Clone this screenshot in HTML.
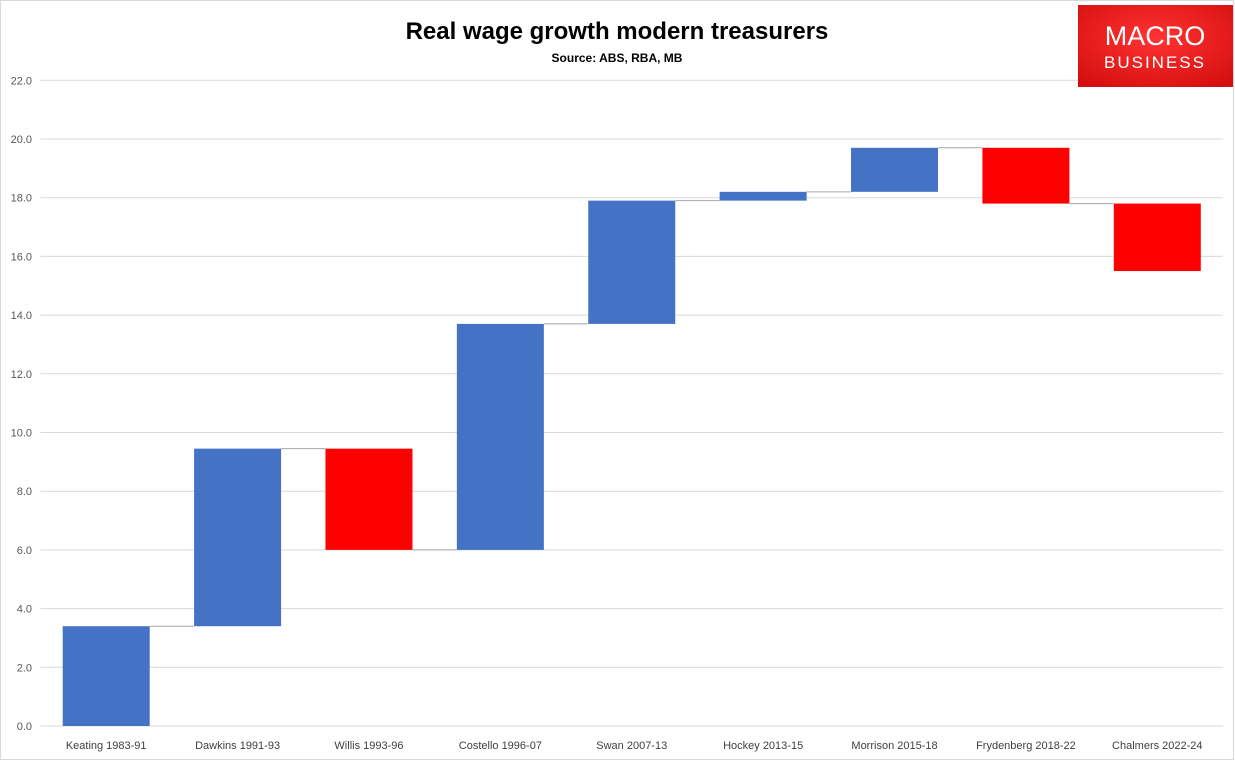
<!DOCTYPE html>
<html><head><meta charset="utf-8"><style>
body{margin:0;background:#fff;font-family:"Liberation Sans",sans-serif;}
svg{display:block}
</style></head><body>
<svg id="chart" width="1235" height="761">
<rect x="0.5" y="0.5" width="1233" height="759" fill="#fff" stroke="#d9d9d9"/>
<text x="617" y="39" text-anchor="middle" font-size="24" font-weight="bold" fill="#000">Real wage growth modern treasurers</text>
<text x="617" y="62" text-anchor="middle" font-size="12" font-weight="bold" fill="#000">Source: ABS, RBA, MB</text>
<g id="grid"></g><g id="bars"></g><g id="labels"></g>
<g>
<defs><radialGradient id="lg" cx="50%" cy="40%" r="70%"><stop offset="0" stop-color="#f33"/><stop offset="1" stop-color="#d50f0f"/></radialGradient></defs>
<rect x="1078" y="5" width="155" height="82" fill="url(#lg)"/>
<text x="1155" y="45" text-anchor="middle" font-size="27" fill="#fff">MACRO</text>
<text x="1155" y="68" text-anchor="middle" font-size="17" letter-spacing="2" fill="#fff">BUSINESS</text>
</g>
</svg>
<script>
const categories=["Keating 1983-91","Dawkins 1991-93","Willis 1993-96","Costello 1996-07","Swan 2007-13","Hockey 2013-15","Morrison 2015-18","Frydenberg 2018-22","Chalmers 2022-24"];
const changes=[3.4,6.05,-3.45,7.7,4.2,0.3,1.5,-1.9,-2.3];
const yTicks=[0,2,4,6,8,10,12,14,16,18,20,22];
const tickLabels=["0.0","2.0","4.0","6.0","8.0","10.0","12.0","14.0","16.0","18.0","20.0","22.0"];
const NS="http://www.w3.org/2000/svg";
const left=40.5,right=1223,y0=726,pxPer=29.35;
const step=(right-left)/categories.length,bw=87;
const Y=v=>y0-v*pxPer, X=i=>left+step*(i+0.5);
function mk(t,a,p){const e=document.createElementNS(NS,t);for(const k in a)e.setAttribute(k,a[k]);p.appendChild(e);return e;}
const grid=document.getElementById('grid'),bars=document.getElementById('bars'),labels=document.getElementById('labels');
yTicks.forEach((v,i)=>{
 const l=mk('line',{x1:left,x2:right,y1:Y(v),y2:Y(v),stroke:'#d9d9d9','stroke-width':1},grid);
 
 
 const t=mk('text',{x:32,y:Y(v)+4,'text-anchor':'end','font-size':11,fill:'#595959'},labels);
 t.textContent=tickLabels[i];
 
 
});
let cum=0;
changes.forEach((d,i)=>{
 const a=cum,b=cum+d;
 const r=mk('rect',{x:X(i)-bw/2,y:Y(Math.max(a,b)),width:bw,height:Math.abs(d)*pxPer,fill:d>=0?'#4472c4':'#ff0000'},bars);
 
 
 if(i<changes.length-1){
  const c=mk('line',{x1:X(i)+bw/2,x2:X(i+1)-bw/2,y1:Y(b),y2:Y(b),stroke:'#a6a6a6','stroke-width':1},bars);
  
  
 }
 const t=mk('text',{x:X(i),y:749,'text-anchor':'middle','font-size':11,fill:'#404040'},labels);
 t.textContent=categories[i];
 
 
 cum=b;
});
</script>
</body></html>
